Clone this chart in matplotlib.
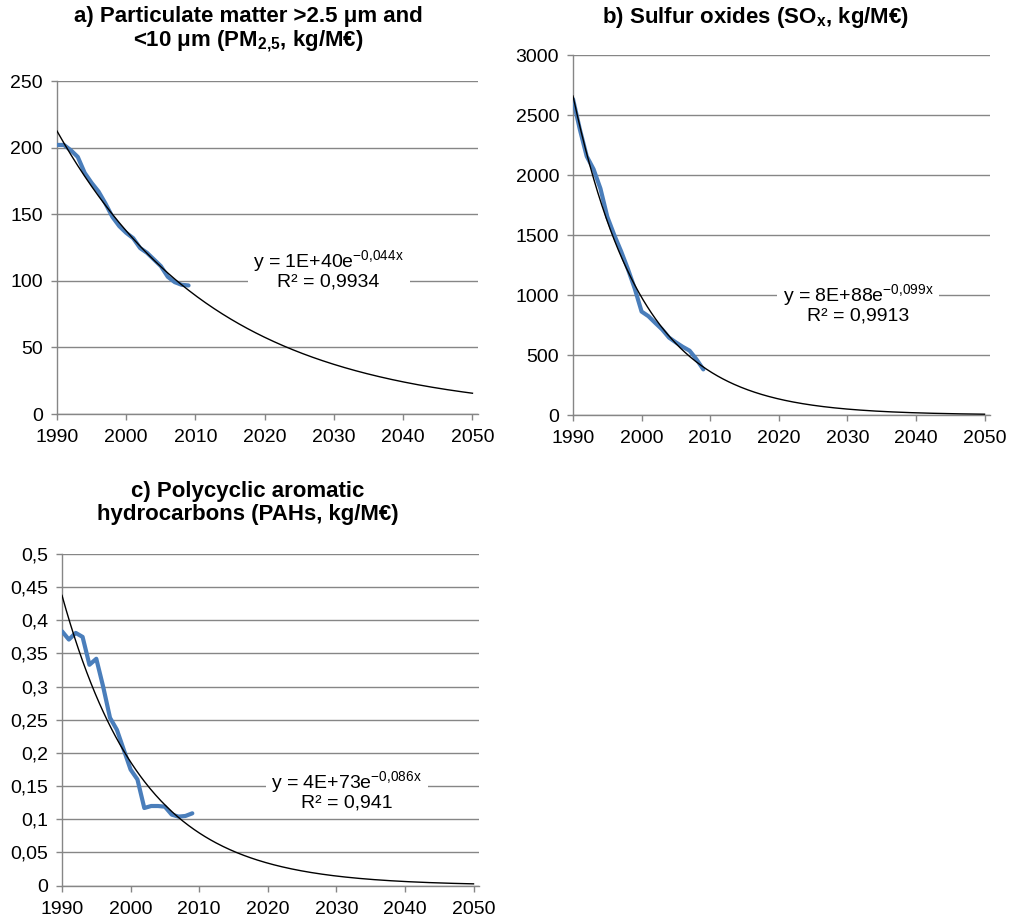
import numpy as np
from matplotlib import pyplot as plt
from matplotlib.ticker import FuncFormatter, MultipleLocator

plt.rcParams['font.family'] = ['Liberation Sans', 'DejaVu Sans']
plt.rcParams['mathtext.fontset'] = 'custom'
plt.rcParams['mathtext.rm'] = 'Liberation Sans'
plt.rcParams['mathtext.it'] = 'Liberation Sans:italic'
plt.rcParams['mathtext.bf'] = 'Liberation Sans:bold'

# emission intensities, 1990-2009
years = np.arange(1990, 2010)
pm = [202, 202, 198, 193, 181, 173.5, 167, 158, 148, 141,
      136, 132, 124.6, 121, 116, 111, 103, 99, 97, 96.5]
sox = [2633, 2380, 2156, 2048, 1887, 1652, 1502, 1366, 1217, 1054,
       862, 823, 767, 713, 645, 605, 568, 536, 464, 380]
pah = [0.3835, 0.371, 0.381, 0.375, 0.333, 0.342, 0.300, 0.253, 0.235, 0.205,
       0.175, 0.160, 0.117, 0.120, 0.120, 0.119, 0.107, 0.104, 0.105, 0.109]

titles = ["a) Particulate matter >2.5 μm and\n<10 μm (PM$_{\\mathbf{2{,}5}}$, kg/M€)",
          "b) Sulfur oxides (SO$_{\\mathbf{x}}$, kg/M€)",
          "c) Polycyclic aromatic\nhydrocarbons (PAHs, kg/M€)"]
labels = ["y = 1E+40e$^{\\mathrm{-0{,}044x}}$\nR² = 0,9934",
          "y = 8E+88e$^{\\mathrm{-0{,}099x}}$\nR² = 0,9913",
          "y = 4E+73e$^{\\mathrm{-0{,}086x}}$\nR² = 0,941"]

grey = '#868686'
blue = '#4A7EBB'

fig = plt.figure(figsize=(10.11, 9.21), dpi=100)

W, H = 1011, 921


def px_axes(left, top, right, bottom):
    return fig.add_axes([left / W, 1 - bottom / H, (right - left) / W, (bottom - top) / H])


ax_a = px_axes(57, 81, 478, 414)
ax_b = px_axes(573, 55, 990, 415)
ax_c = px_axes(62, 554, 479, 885.6)

setups = [
    (ax_a, pm, 250, 50, labels[0], (0.645, 0.435), 0),
    (ax_b, sox, 3000, 500, labels[1], (0.684, 0.31), 0),
    (ax_c, pah, 0.5, 0.05, labels[2], (0.683, 0.288), 2),
]

xt = np.linspace(1990, 2050, 300)

for ax, vals, ymax, ystep, lab, pos, dec in setups:
    vals = np.array(vals)
    # exponential trend line like Excel (log-linear fit)
    m, b = np.polyfit(years, np.log(vals), 1)
    ax.plot(years, vals, color=blue, lw=3, solid_capstyle='round', zorder=3)
    ax.plot(xt, np.exp(b + m * xt), color='black', lw=1.0, zorder=4)

    ax.set_xlim(1990, 2050.8)
    ax.set_ylim(0, ymax)
    ax.xaxis.set_major_locator(MultipleLocator(10))
    ax.yaxis.set_major_locator(MultipleLocator(ystep))
    if dec:
        ax.yaxis.set_major_formatter(FuncFormatter(lambda v, p: f"{v:.2f}".rstrip('0').rstrip('.').replace('.', ',')))
    ax.grid(axis='y', color=grey, lw=1.0, zorder=1)
    ax.set_axisbelow(True)
    for s in ['top', 'right']:
        ax.spines[s].set_visible(False)
    for s in ['left', 'bottom']:
        ax.spines[s].set_color(grey)
        ax.spines[s].set_linewidth(1.0)
    ax.tick_params(direction='out', length=4, width=1.0, color=grey, labelsize=14)
    ax.tick_params(axis='x', pad=7)
    ax.tick_params(axis='y', pad=6)
    ax.text(pos[0], pos[1], lab, transform=ax.transAxes, ha='center', va='center',
            fontsize=14, multialignment='center', linespacing=1.0, zorder=5,
            bbox=dict(facecolor='white', edgecolor='none', pad=4))

fig.text(248 / W, 1 - 30 / H, titles[0], ha='center', va='center', fontsize=16,
         fontweight='bold', linespacing=1.08)
fig.text(756 / W, 1 - 18 / H, titles[1], ha='center', va='center', fontsize=16,
         fontweight='bold')
fig.text(248 / W, 1 - 503 / H, titles[2], ha='center', va='center', fontsize=16,
         fontweight='bold', linespacing=1.12)

plt.savefig('out.png', dpi=100)
